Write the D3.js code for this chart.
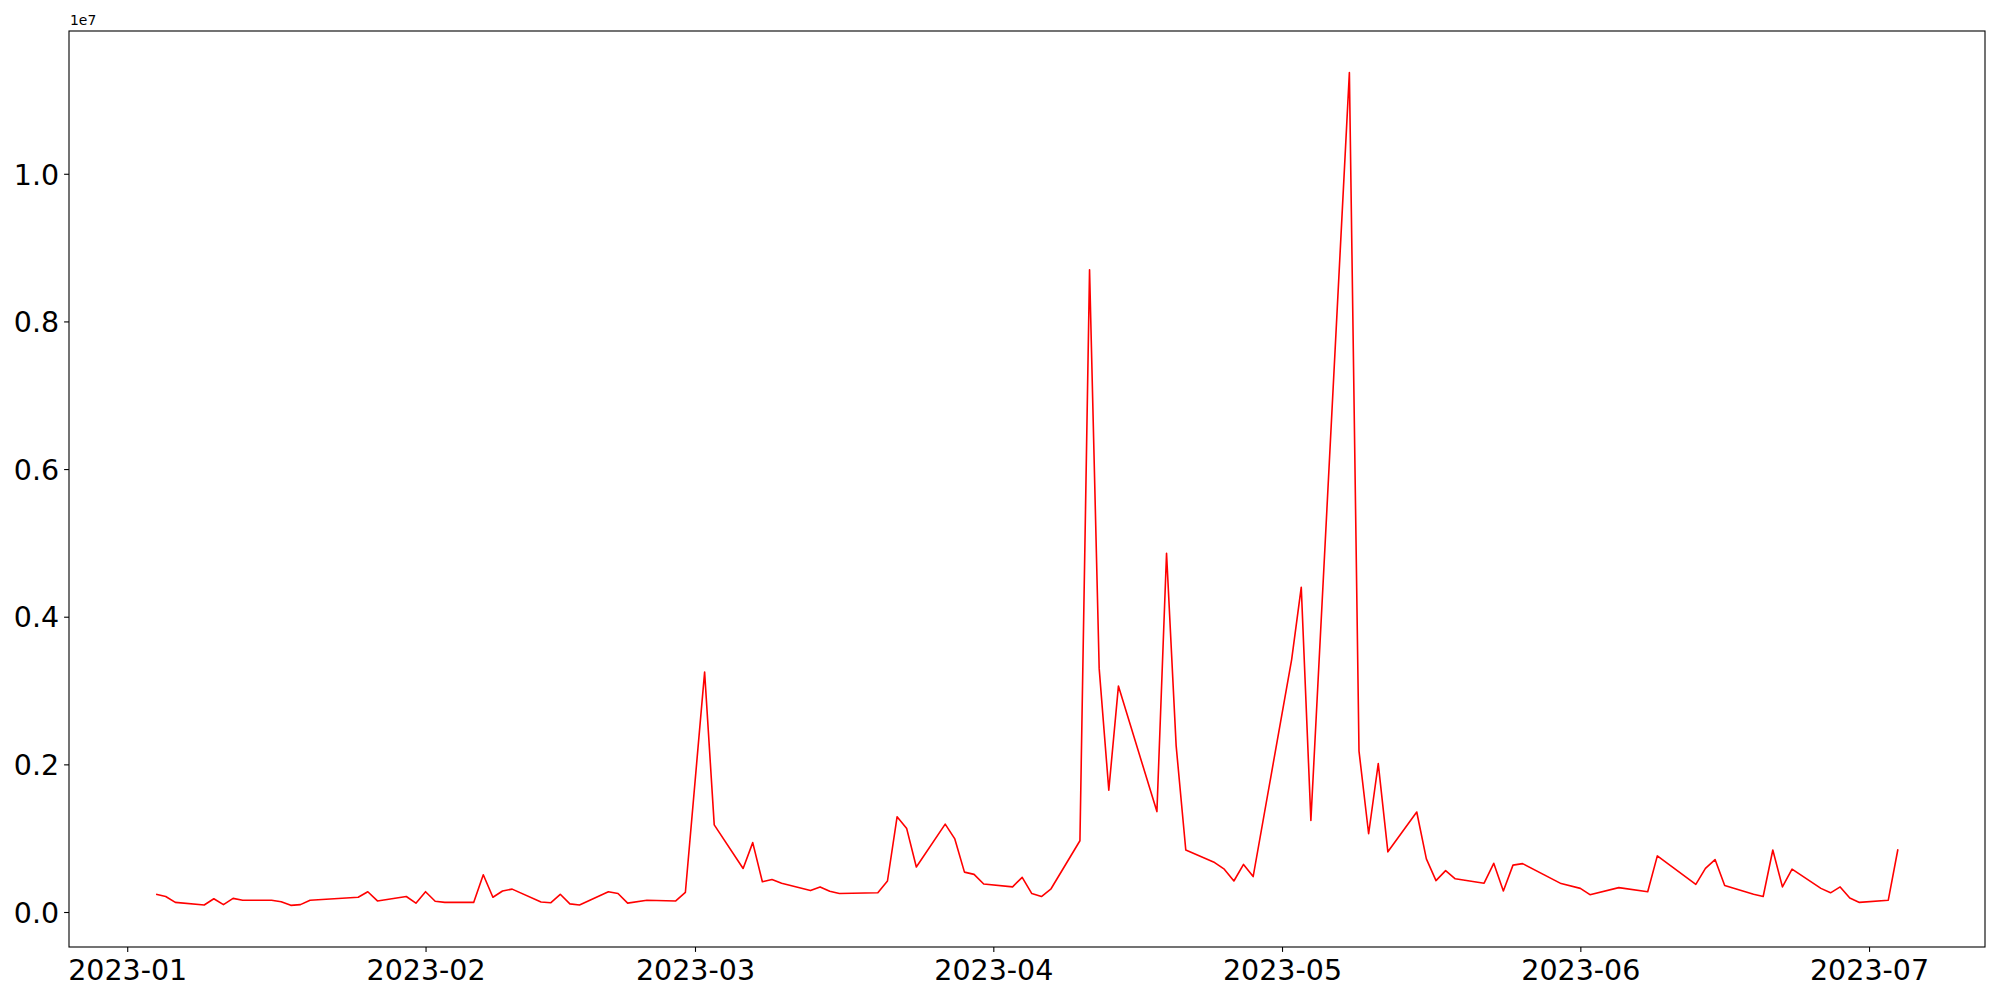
<!DOCTYPE html>
<html>
<head>
<meta charset="utf-8">
<script src="https://cdn.jsdelivr.net/npm/d3@7"></script>
<style>
  body { margin: 0; background: #fff; }
  .axis text { font-family: "DejaVu Sans", sans-serif; font-size: 28.5px; fill: #000; }
  .axis path, .axis line { stroke: #000; stroke-width: 1.1px; }
</style>
</head>
<body>
<svg id="chart" width="2000" height="1000"></svg>
<script>
// trading days and values
var dates = [
  "2023-01-04","2023-01-05","2023-01-06","2023-01-09","2023-01-10","2023-01-11","2023-01-12","2023-01-13",
  "2023-01-16","2023-01-17","2023-01-18","2023-01-19","2023-01-20","2023-01-25","2023-01-26","2023-01-27",
  "2023-01-30","2023-01-31","2023-02-01","2023-02-02","2023-02-03","2023-02-06","2023-02-07","2023-02-08",
  "2023-02-09","2023-02-10","2023-02-13","2023-02-14","2023-02-15","2023-02-16","2023-02-17","2023-02-20",
  "2023-02-21","2023-02-22","2023-02-24","2023-02-27","2023-02-28","2023-03-02","2023-03-03","2023-03-06",
  "2023-03-07","2023-03-08","2023-03-09","2023-03-10","2023-03-13","2023-03-14","2023-03-15","2023-03-16",
  "2023-03-20","2023-03-21","2023-03-22","2023-03-23","2023-03-24","2023-03-27","2023-03-28","2023-03-29",
  "2023-03-30","2023-03-31","2023-04-03","2023-04-04","2023-04-05","2023-04-06","2023-04-07","2023-04-10",
  "2023-04-11","2023-04-12","2023-04-13","2023-04-14","2023-04-18","2023-04-19","2023-04-20","2023-04-21",
  "2023-04-24","2023-04-25","2023-04-26","2023-04-27","2023-04-28","2023-05-02","2023-05-03","2023-05-04",
  "2023-05-08","2023-05-09","2023-05-10","2023-05-11","2023-05-12","2023-05-15","2023-05-16","2023-05-17",
  "2023-05-18","2023-05-19","2023-05-22","2023-05-23","2023-05-24","2023-05-25","2023-05-26","2023-05-30",
  "2023-06-01","2023-06-02","2023-06-05","2023-06-08","2023-06-09","2023-06-13","2023-06-14","2023-06-15",
  "2023-06-16","2023-06-19","2023-06-20","2023-06-21","2023-06-22","2023-06-23","2023-06-26","2023-06-27",
  "2023-06-28","2023-06-29","2023-06-30","2023-07-03","2023-07-04"
];
var values = [
  240000, 210000, 130000, 95000, 180000, 100000, 185000, 160000,
  160000, 140000, 90000, 100000, 160000, 200000, 275000, 150000,
  210000, 120000, 275000, 145000, 130000, 130000, 505000, 200000,
  285000, 310000, 135000, 125000, 240000, 110000, 95000, 275000,
  250000, 120000, 160000, 150000, 265000, 3250000, 1180000, 590000,
  940000, 410000, 440000, 390000, 290000, 340000, 280000, 250000,
  260000, 420000, 1290000, 1130000, 610000, 1190000, 990000, 540000,
  510000, 380000, 340000, 470000, 250000, 210000, 315000, 965000,
  8700000, 3300000, 1650000, 3060000, 1360000, 4860000, 2250000, 840000,
  670000, 580000, 420000, 645000, 480000, 3420000, 4400000, 1240000,
  11370000, 2180000, 1060000, 2010000, 815000, 1355000, 720000, 425000,
  560000, 450000, 390000, 660000, 285000, 635000, 655000, 385000,
  320000, 235000, 330000, 275000, 760000, 375000, 590000, 710000,
  360000, 240000, 210000, 840000, 340000, 580000, 320000, 260000,
  340000, 190000, 130000, 160000, 850000
];
var yTicks = [0, 2e6, 4e6, 6e6, 8e6, 1e7];

var svg = d3.select('#chart');
var MARGINS = {left: 69, right: 15, top: 31, bottom: 53};
var WIDTH = 2000, HEIGHT = 1000;

var parse = d3.utcParse("%Y-%m-%d");
var data = [];
for (var i = 0; i < dates.length; i++) {
    data.push({date: parse(dates[i]), value: values[i]});
}

// matplotlib style 5% padding around the data
var xExt = d3.extent(data, function(d) { return +d.date; });
var xPad = (xExt[1] - xExt[0]) * 0.05;
var yExt = d3.extent(values);
var yPad = (yExt[1] - yExt[0]) * 0.05;

var xRange = d3.scaleUtc()
    .domain([new Date(xExt[0] - xPad), new Date(xExt[1] + xPad)])
    .range([MARGINS.left, WIDTH - MARGINS.right]);
var yRange = d3.scaleLinear()
    .domain([yExt[0] - yPad, yExt[1] + yPad])
    .range([HEIGHT - MARGINS.bottom, MARGINS.top]);

var xAxis = d3.axisBottom(xRange)
    .ticks(d3.utcMonth.every(1))
    .tickFormat(d3.utcFormat("%Y-%m"))
    .tickSize(4.9)
    .tickPadding(5);
svg.append("g").attr("class", "axis")
    .attr("transform", "translate(0," + (HEIGHT - MARGINS.bottom) + ")")
    .call(xAxis)
    .call(function(g) { g.select(".domain").remove(); })
    .selectAll("text").attr("dy", "0.8em");

var yAxis = d3.axisLeft(yRange)
    .tickValues(yTicks)
    .tickFormat(function(d) { return (d / 1e7).toFixed(1); })
    .tickSize(4.9)
    .tickPadding(5);
svg.append("g").attr("class", "axis")
    .attr("transform", "translate(" + MARGINS.left + ",0)")
    .call(yAxis)
    .call(function(g) { g.select(".domain").remove(); })
    .selectAll("text").attr("dy", "0.36em");

// offset label
svg.append("text")
    .attr("x", MARGINS.left + 1)
    .attr("y", MARGINS.top - 6)
    .attr("font-family", "DejaVu Sans, sans-serif")
    .attr("font-size", "13.9px")
    .text("1e7");

// the line
var lineFunc = d3.line()
    .x(function(d) { return xRange(d.date); })
    .y(function(d) { return yRange(d.value); });
svg.append("path")
    .attr("d", lineFunc(data))
    .attr("fill", "none")
    .attr("stroke", "red")
    .attr("stroke-width", 1.6)
    .attr("stroke-linejoin", "round");

// frame
svg.append("rect")
    .attr("x", MARGINS.left)
    .attr("y", MARGINS.top)
    .attr("width", WIDTH - MARGINS.right - MARGINS.left)
    .attr("height", HEIGHT - MARGINS.bottom - MARGINS.top)
    .attr("fill", "none")
    .attr("stroke", "#000")
    .attr("stroke-width", 1.1);
</script>
</body>
</html>
